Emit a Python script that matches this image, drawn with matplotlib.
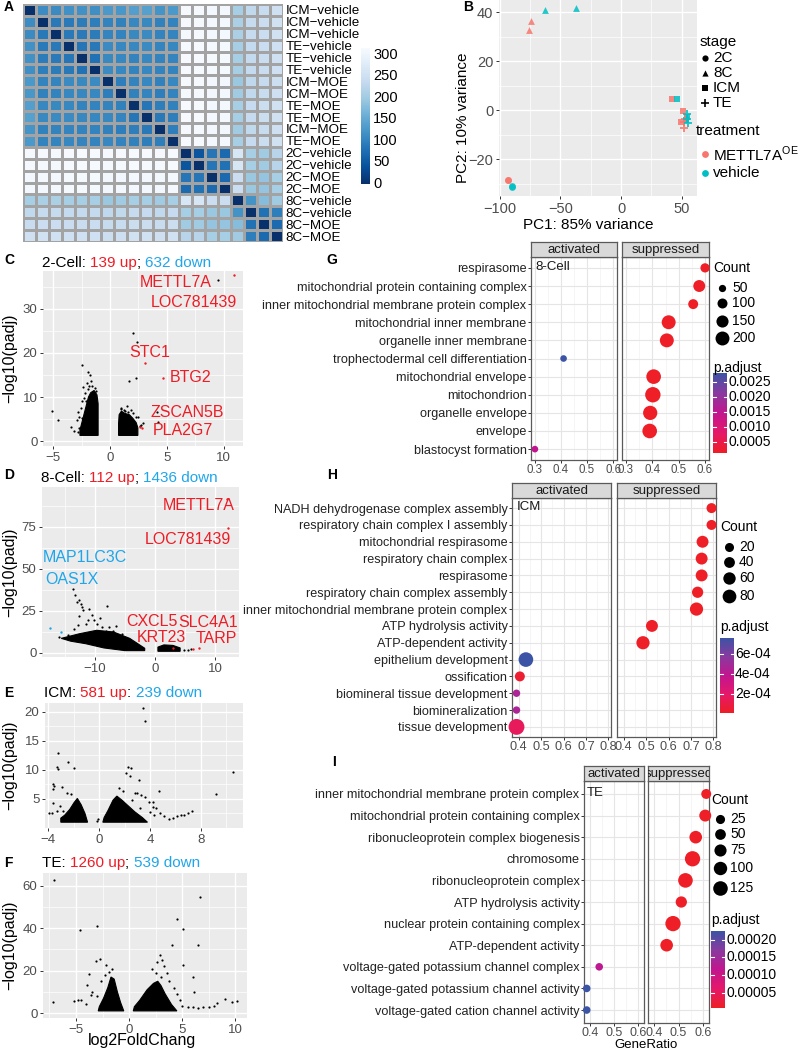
import numpy as np
import matplotlib
matplotlib.use("Agg")
import matplotlib.pyplot as plt
from matplotlib.colors import LinearSegmentedColormap
from matplotlib.transforms import blended_transform_factory

plt.rcParams['font.family'] = ['Liberation Sans', 'DejaVu Sans']
plt.rcParams['axes.unicode_minus'] = True

W, H = 799, 1050
fig = plt.figure(figsize=(W / 100, H / 100), dpi=100)


def box(l, t, r, b):
    return [l / W, 1 - b / H, (r - l) / W, (b - t) / H]


ov = fig.add_axes([0, 0, 1, 1], zorder=20)
ov.set_xlim(0, W)
ov.set_ylim(H, 0)
ov.axis('off')

# ------------------------------------------------------------------ data
hm_labels = (['ICM−vehicle'] * 3 + ['TE−vehicle'] * 3 +
             ['ICM−MOE', 'ICM−MOE', 'TE−MOE', 'TE−MOE', 'ICM−MOE', 'TE−MOE',
              '2C−vehicle', '2C−vehicle', '2C−MOE', '2C−MOE',
              '8C−vehicle', '8C−vehicle', '8C−MOE', '8C−MOE'])
hm_values = [
    [0, 112, 110, 118, 118, 115, 128, 125, 135, 138, 122, 128, 312, 312, 308, 308, 205, 232, 240, 250],
    [112, 0, 88, 90, 92, 95, 100, 98, 105, 108, 98, 100, 312, 312, 308, 308, 210, 238, 245, 252],
    [110, 88, 0, 88, 90, 92, 102, 100, 108, 110, 100, 102, 312, 312, 308, 308, 210, 238, 245, 252],
    [118, 90, 88, 0, 85, 88, 110, 105, 105, 110, 102, 105, 314, 314, 310, 310, 205, 235, 242, 250],
    [118, 92, 90, 85, 0, 80, 108, 105, 100, 105, 100, 102, 314, 314, 310, 310, 205, 235, 242, 250],
    [115, 95, 92, 88, 80, 0, 110, 105, 100, 105, 100, 100, 314, 314, 310, 310, 205, 235, 242, 250],
    [128, 100, 102, 110, 108, 110, 0, 95, 100, 105, 98, 105, 312, 312, 306, 306, 195, 230, 238, 246],
    [125, 98, 100, 105, 105, 105, 95, 0, 98, 102, 95, 100, 312, 312, 306, 306, 200, 232, 240, 248],
    [135, 105, 108, 105, 100, 100, 100, 98, 0, 85, 95, 98, 314, 314, 308, 308, 205, 236, 244, 252],
    [138, 108, 110, 110, 105, 105, 105, 102, 85, 0, 88, 95, 314, 314, 308, 308, 205, 236, 244, 252],
    [122, 98, 100, 102, 100, 100, 98, 95, 95, 88, 0, 95, 312, 312, 306, 306, 200, 232, 240, 248],
    [128, 100, 102, 105, 102, 100, 105, 100, 98, 95, 95, 0, 314, 314, 308, 308, 205, 236, 244, 252],
    [312, 312, 312, 314, 314, 314, 312, 312, 314, 314, 312, 314, 0, 45, 85, 70, 265, 205, 200, 222],
    [312, 312, 312, 314, 314, 314, 312, 312, 314, 314, 312, 314, 45, 0, 85, 80, 265, 205, 200, 222],
    [308, 308, 308, 310, 310, 310, 306, 306, 308, 308, 306, 308, 85, 85, 0, 70, 245, 195, 190, 205],
    [308, 308, 308, 310, 310, 310, 306, 306, 308, 308, 306, 308, 70, 80, 70, 0, 245, 195, 190, 205],
    [205, 210, 210, 205, 205, 205, 195, 200, 205, 205, 200, 205, 265, 265, 245, 245, 0, 120, 180, 200],
    [232, 238, 238, 235, 235, 235, 230, 232, 236, 236, 232, 236, 205, 205, 195, 195, 120, 0, 80, 95],
    [240, 245, 245, 242, 242, 242, 238, 240, 244, 244, 240, 244, 200, 200, 190, 190, 180, 80, 0, 70],
    [250, 252, 252, 250, 250, 250, 246, 248, 252, 252, 248, 252, 222, 222, 205, 205, 200, 95, 70, 0],
]
hm_ticks = [0, 50, 100, 150, 200, 250, 300]

pca_stage = ['2C', '2C', '2C', '2C', '8C', '8C', '8C', '8C'] + ['ICM'] * 6 + ['TE'] * 6
pca_treat = ['MOE', 'MOE', 'vehicle', 'vehicle', 'MOE', 'MOE', 'vehicle', 'vehicle',
             'MOE', 'MOE', 'MOE', 'vehicle', 'vehicle', 'vehicle',
             'MOE', 'MOE', 'MOE', 'vehicle', 'vehicle', 'vehicle']
pca_pc1 = [-93.2, -93.0, -89.8, -89.6, -74.5, -76.0, -62.8, -37.2,
           42.0, 51.0, 49.5, 46.0, 54.0, 53.5, 52.0, 51.5, 53.0, 54.0, 55.0, 54.5]
pca_pc2 = [-28.5, -28.7, -31.4, -31.2, 36.3, 32.6, 40.8, 41.6,
           4.5, -0.4, -4.8, 4.6, -2.8, -4.0, -7.2, -5.0, -3.5, -1.5, -5.5, -3.8]

# volcano C (2-Cell)
C_core_down = [(-2.65, 1.3), (-1.05, 1.3), (-1.05, 8.5), (-1.15, 10.5), (-1.4, 11.5), (-1.7, 11.0),
               (-1.9, 10.0), (-2.1, 8.0), (-2.3, 6.0), (-2.5, 4.0), (-2.65, 2.5)]
C_core_up = [(0.75, 1.3), (2.45, 1.3), (2.45, 3.0), (2.3, 4.2), (2.0, 5.2), (1.7, 6.0), (1.3, 6.3),
             (1.0, 6.8), (0.8, 6.0), (0.75, 4.0)]
C_black = [(-2.5, 17.3), (-1.9, 15.7), (-1.8, 15.0), (-2.05, 13.2), (-1.65, 13.6), (-2.4, 12.2),
           (-1.55, 12.6), (-2.2, 11.0), (-1.95, 11.8), (-2.5, 9.2), (-2.6, 7.6), (-2.8, 6.6), (-2.45, 5.2),
           (-2.9, 4.8), (-3.4, 3.2), (-4.6, 4.8), (-5.1, 6.8), (-3.2, 2.4), (-2.75, 3.0), (-2.8, 2.0),
           (-2.7, 5.5), (-2.3, 9.8), (-2.1, 9.0), (-1.85, 12.5), (-1.3, 12.0), (-1.2, 11.3),
           (1.0, 7.6), (1.25, 7.0), (1.5, 7.9), (1.8, 7.1), (2.05, 6.4), (1.35, 6.9), (2.0, 24.5),
           (2.4, 22.5), (1.7, 13.7), (2.3, 14.3), (2.9, 4.1), (2.75, 3.7), (4.1, 6.6), (4.2, 4.3),
           (9.5, 36.6), (2.5, 5.4), (1.6, 6.6), (2.3, 5.5), (0.95, 7.2), (2.6, 3.4)]
C_red = [(10.9, 37.8), (3.1, 17.7), (4.7, 14.3), (2.6, 3.2), (2.8, 3.0)]
C_blue = []
C_labels = [('METTL7A', 5.8, 36.1, 'up'), ('LOC781439', 7.4, 31.4, 'up'), ('STC1', 3.5, 20.2, 'up'),
            ('BTG2', 7.1, 14.5, 'up'), ('ZSCAN5B', 6.8, 6.4, 'up'), ('PLA2G7', 6.4, 2.5, 'up')]

# volcano D (8-Cell)
D_core_down = [(-15.6, 8.7), (-12.5, 11.5), (-9.7, 13.5), (-6.9, 12.5), (-4.2, 8.7), (-1.7, 2.8),
               (-1.7, 1.4), (-5.0, 1.4), (-8.5, 3.0), (-11.5, 5.5), (-14.0, 7.0)]
D_core_up = [(0.5, 1.0), (4.2, 1.0), (4.2, 3.0), (3.0, 4.5), (1.5, 4.8), (0.5, 3.5)]
D_black = [(-13.7, 37.9), (-13.3, 34.5), (-13.0, 30.5), (-12.6, 31.5), (-12.3, 29.0), (-8.05, 28.2),
           (-11.9, 25.6), (-12.6, 22.0), (-11.1, 19.6), (-10.2, 19.6), (-9.6, 17.2), (-11.5, 17.0),
           (-8.8, 15.5), (-7.6, 15.5), (-7.0, 13.0), (-8.2, 13.0), (-13.5, 14.0), (-12.8, 16.5),
           (-10.5, 22.5), (-9.2, 21.0), (-6.5, 16.0), (-5.5, 11.5), (-14.5, 10.5), (-16.0, 9.5),
           (-10.9, 26.2), (-12.1, 27.5), (4.9, 1.8), (6.0, 2.6), (5.5, 1.5)]
D_red = [(12.0, 91.7), (12.2, 74.4), (3.05, 2.8), (6.3, 2.4), (7.4, 2.8)]
D_blue = [(-17.4, 14.7), (-15.7, 12.7)]
D_labels = [('METTL7A', 7.3, 88.0, 'up'), ('LOC781439', 5.5, 67.3, 'up'), ('MAP1LC3C', -11.7, 57.1, 'down'),
            ('OAS1X', -13.8, 44.0, 'down'), ('CXCL5', -0.5, 18.5, 'up'), ('SLC4A1', 8.8, 17.9, 'up'),
            ('KRT23', 1.0, 9.5, 'up'), ('TARP', 10.3, 8.9, 'up')]

# volcano E (ICM)
E_core_down = [(-3.0, 1.0), (-0.9, 1.0), (-1.1, 2.5), (-1.4, 4.0), (-1.7, 5.1), (-1.95, 4.4),
               (-2.3, 3.2), (-2.7, 2.2), (-3.0, 1.7)]
E_core_up = [(0.3, 1.0), (3.8, 1.0), (3.4, 1.8), (2.8, 2.8), (2.3, 3.8), (1.8, 4.8), (1.4, 5.5),
             (1.1, 4.8), (0.7, 3.0), (0.4, 1.8)]
E_black = [(3.45, 20.7), (3.6, 18.4), (-3.2, 12.9), (-2.4, 11.4), (-3.3, 10.5), (-3.25, 10.2),
           (-2.0, 10.3), (-3.6, 7.6), (-3.5, 7.3), (-3.6, 6.8), (-2.5, 6.1), (-2.9, 7.0), (-3.6, 4.3),
           (-3.9, 2.5), (-3.7, 2.6), (-2.2, 5.8), (-3.1, 3.8), (-2.8, 3.0), (-3.3, 2.9), (-0.15, 1.2),
           (-0.1, 1.5), (10.5, 9.7), (9.2, 5.9), (2.3, 10.5), (2.5, 10.4), (2.1, 9.5), (2.4, 9.0),
           (3.1, 8.3), (4.7, 6.3), (2.8, 6.0), (3.0, 6.1), (3.3, 5.7), (1.6, 6.9), (1.9, 6.3), (3.9, 4.5),
           (4.2, 4.5), (3.6, 5.3), (4.5, 3.5), (4.0, 2.8), (4.3, 2.2), (4.8, 2.5), (5.1, 2.0), (5.5, 1.6),
           (5.8, 1.8), (6.1, 2.0), (6.4, 2.3), (6.7, 2.3), (7.0, 2.6), (7.3, 3.0), (4.2, 3.6), (2.6, 4.8),
           (3.2, 3.5)]
E_red = []
E_blue = []
E_labels = []

# volcano F (TE)
F_core_down = [(-2.9, 1.0), (-0.5, 1.0), (-0.8, 5.0), (-1.1, 10.0), (-1.4, 16.0), (-1.7, 17.0),
               (-2.0, 12.0), (-2.4, 7.0), (-2.8, 3.0)]
F_core_up = [(0.4, 1.0), (4.5, 1.0), (4.0, 4.0), (3.4, 9.0), (3.0, 13.0), (2.7, 15.0), (2.3, 14.0),
             (1.7, 11.0), (1.0, 6.0), (0.5, 3.0)]
F_black = [(-7.1, 62.9), (-7.2, 5.3), (-4.6, 39.0), (-3.0, 41.0), (-2.7, 25.7), (-3.1, 24.5),
           (-2.2, 22.6), (-3.8, 18.2), (-4.8, 6.1), (-4.5, 6.1), (-3.5, 10.0), (-3.0, 8.0), (-2.6, 15.0),
           (-2.3, 18.0), (-1.9, 19.5), (-1.6, 21.0), (-4.0, 13.0), (-3.6, 8.5), (-5.2, 5.5), (-4.1, 4.2),
           (6.7, 54.7), (4.5, 44.2), (5.1, 39.5), (4.0, 32.0), (6.5, 32.0), (5.1, 22.6), (6.0, 17.1),
           (6.1, 10.0), (10.2, 5.7), (9.7, 5.0), (9.0, 6.5), (8.3, 4.5), (8.0, 3.5), (7.5, 3.0), (7.0, 2.8),
           (6.5, 2.5), (6.0, 2.8), (5.5, 3.0), (5.0, 3.5), (2.9, 27.3), (3.1, 25.0), (2.6, 24.0),
           (3.3, 22.0), (2.2, 21.0), (3.6, 19.0), (2.5, 19.0), (3.0, 17.0), (3.8, 15.0), (4.2, 12.0),
           (4.5, 9.0), (4.8, 6.0)]
F_red = []
F_blue = []
F_labels = []

# GO dot plots
G_terms = ['respirasome', 'mitochondrial protein containing complex',
           'inner mitochondrial membrane protein complex', 'mitochondrial inner membrane',
           'organelle inner membrane', 'trophectodermal cell differentiation', 'mitochondrial envelope',
           'mitochondrion', 'organelle envelope', 'envelope', 'blastocyst formation']
G_group = ['suppressed', 'suppressed', 'suppressed', 'suppressed', 'suppressed', 'activated',
           'suppressed', 'suppressed', 'suppressed', 'suppressed', 'activated']
G_ratio = [0.600, 0.578, 0.555, 0.462, 0.455, 0.410, 0.405, 0.402, 0.392, 0.390, 0.300]
G_count = [85, 145, 99, 200, 200, 41, 221, 245, 209, 221, 41]
G_padj = [0.00015, 0.00015, 0.00015, 0.00015, 0.00015, 0.0028, 0.00015, 0.00015, 0.00015, 0.00015, 0.0015]

H_terms = ['NADH dehydrogenase complex assembly', 'respiratory chain complex I assembly',
           'mitochondrial respirasome', 'respiratory chain complex', 'respirasome',
           'respiratory chain complex assembly', 'inner mitochondrial membrane protein complex',
           'ATP hydrolysis activity', 'ATP-dependent activity', 'epithelium development', 'ossification',
           'biomineral tissue development', 'biomineralization', 'tissue development']
H_group = ['suppressed'] * 9 + ['activated'] * 5
H_ratio = [0.792, 0.792, 0.752, 0.748, 0.748, 0.730, 0.725, 0.526, 0.486, 0.432, 0.405, 0.390, 0.390, 0.390]
H_count = [30, 30, 54, 54, 54, 45, 72, 54, 72, 94, 30, 5, 5, 115]
H_padj = [1e-5, 1e-5, 1e-5, 1e-5, 1e-5, 1e-5, 1e-5, 1e-5, 1e-5, 7.6e-4, 4e-5, 4.6e-4, 4.6e-4, 1.6e-4]

I_terms = ['inner mitochondrial membrane protein complex', 'mitochondrial protein containing complex',
           'ribonucleoprotein complex biogenesis', 'chromosome', 'ribonucleoprotein complex',
           'ATP hydrolysis activity', 'nuclear protein containing complex', 'ATP-dependent activity',
           'voltage-gated potassium channel complex', 'voltage-gated potassium channel activity',
           'voltage-gated cation channel activity']
I_group = ['suppressed'] * 8 + ['activated'] * 3
I_ratio = [0.613, 0.609, 0.570, 0.557, 0.528, 0.511, 0.477, 0.451, 0.438, 0.386, 0.386]
I_count = [37, 71, 84, 142, 126, 59, 142, 84, 5, 5, 5]
I_padj = [7e-6, 7e-6, 7e-6, 7e-6, 7e-6, 7e-6, 7e-6, 7e-6, 1.2e-4, 2.25e-4, 2.25e-4]

# ------------------------------------------------------------------ style helpers
RED = '#EE1C25'
BLUE_T = '#1FA6EA'
GRAY_TXT = '#4D4D4D'
cmap_p = LinearSegmentedColormap.from_list(
    'padj', ['#EE1F26', '#E5196A', '#C2168F', '#8A3A9F', '#3C54A5'])


def letter(x, y, s):
    ov.text(x, y, s, fontsize=10, fontweight='bold', ha='left', va='center')


def multicolor(x, y, parts, size):
    r = fig.canvas.get_renderer()
    for s, c in parts:
        t = ov.text(x, y, s, color=c, fontsize=size, ha='left', va='center')
        bb = t.get_window_extent(renderer=r)
        x += bb.width


def gg_axes(ax, xlim, ylim, xt, yt, xm, ym, fs=9.5):
    ax.set_facecolor('#EBEBEB')
    ax.set_xlim(*xlim)
    ax.set_ylim(*ylim)
    ax.set_xticks(xt)
    ax.set_yticks(yt)
    ax.set_xticks(xm, minor=True)
    ax.set_yticks(ym, minor=True)
    ax.grid(which='major', color='white', linewidth=1.0)
    ax.grid(which='minor', color='white', linewidth=0.5)
    ax.set_axisbelow(True)
    for sp in ax.spines.values():
        sp.set_visible(False)
    ax.tick_params(which='major', length=2.5, width=0.7, color='#333333', labelcolor=GRAY_TXT,
                   labelsize=fs, pad=1.5)
    ax.tick_params(which='minor', length=0)


# ------------------------------------------------------------------ A heatmap
letter(4, 7, 'A')
axA = fig.add_axes(box(23, 4, 283, 242))
cmapA = LinearSegmentedColormap.from_list(
    'blues_r', ['#08306B', '#08519C', '#2171B5', '#4292C6', '#6BAED6', '#9ECAE1', '#C6DBEF',
                '#DEEBF7', '#F7FBFF'])
hm = np.array(hm_values, float)
axA.pcolormesh(hm, cmap=cmapA, vmin=0, vmax=316, edgecolors='#A3A3A3', linewidth=0.8)
axA.set_xlim(0, hm.shape[1])
axA.set_ylim(hm.shape[0], 0)
axA.set_xticks([])
axA.yaxis.tick_right()
axA.set_yticks(np.arange(len(hm_labels)) + 0.5)
axA.set_yticklabels(hm_labels, fontsize=9.6)
axA.tick_params(axis='y', length=0, pad=2)
for sp in axA.spines.values():
    sp.set_visible(False)

axAc = fig.add_axes(box(361, 48, 370, 184))
axAc.imshow(np.linspace(0, 316, 256).reshape(-1, 1), aspect='auto', cmap=cmapA, origin='lower',
            extent=[0, 1, 0, 316], vmin=0, vmax=316)
axAc.set_xlim(0, 1)
axAc.set_ylim(0, 316)
axAc.axis('off')
for v in hm_ticks:
    axAc.text(1.35, v, str(v), fontsize=10.5, ha='left', va='center')

# ------------------------------------------------------------------ B PCA
letter(463, 7, 'B')
axB = fig.add_axes(box(499, 0, 697, 196))
gg_axes(axB, (-100.5, 62.6), (-35.1, 44.9), [-100, -50, 0, 50], [-20, 0, 20, 40],
        [-75, -25, 25], [-30, -10, 10, 30], fs=10.5)
stage_marker = {'2C': 'o', '8C': '^', 'ICM': 's', 'TE': 'P'}
treat_color = {'MOE': '#F8766D', 'vehicle': '#00BFC4'}
for st, tr, x, y in zip(pca_stage, pca_treat, pca_pc1, pca_pc2):
    if st == 'TE':
        axB.scatter([x], [y], marker='+', s=34, linewidths=1.4, color=treat_color[tr], alpha=0.85, zorder=3)
    else:
        axB.scatter([x], [y], marker=stage_marker[st], s=24, linewidths=0, color=treat_color[tr],
                    alpha=0.85, zorder=3)
ov.text(463, 118, 'PC2: 10% variance', rotation=90, fontsize=11, ha='center', va='center')
ov.text(588, 225, 'PC1: 85% variance', fontsize=11, ha='center', va='center')
ov.text(700, 42, 'stage', fontsize=11, ha='left', va='center')
for lab, yy, mk in zip(['2C', '8C', 'ICM', 'TE'], [58, 73, 88, 103], ['o', '^', 's', '+']):
    if mk == '+':
        ov.scatter([705], [yy], marker='+', s=34, linewidths=1.2, color='black')
    else:
        ov.scatter([705], [yy], marker=mk, s=20, linewidths=0, color='black')
    ov.text(713, yy, lab, fontsize=11, ha='left', va='center')
ov.text(696, 131, 'treatment', fontsize=11, ha='left', va='center')
ov.scatter([705], [154], marker='o', s=24, linewidths=0, color='#F8766D')
ov.text(713, 154, r'METTL7A$^{\mathregular{OE}}$', fontsize=11, ha='left', va='center')
ov.scatter([705], [173], marker='o', s=24, linewidths=0, color='#00BFC4')
ov.text(713, 173, 'vehicle', fontsize=11, ha='left', va='center')


# ------------------------------------------------------------------ volcano plots
def volcano(bx, xlim, ylim, xt, yt, xm, ym, core_down, core_up, black, red, blue, labels,
            title_xy, title_parts, ylab_y):
    ax = fig.add_axes(box(*bx))
    gg_axes(ax, xlim, ylim, xt, yt, xm, ym)
    for poly in (core_down, core_up):
        p = np.array(poly)
        ax.fill(p[:, 0], p[:, 1], color='black', lw=0.8, zorder=2)
    if black:
        b = np.array(black)
        ax.scatter(b[:, 0], b[:, 1], s=2.5, color='black', linewidths=0, zorder=3)
    if red:
        r = np.array(red)
        ax.scatter(r[:, 0], r[:, 1], s=3, color=RED, linewidths=0, zorder=3)
    if blue:
        b = np.array(blue)
        ax.scatter(b[:, 0], b[:, 1], s=3, color=BLUE_T, linewidths=0, zorder=3)
    for txt, x, y, kind in labels:
        ax.text(x, y, txt, color=RED if kind == 'up' else BLUE_T, fontsize=11.5, ha='center',
                va='center', zorder=4, clip_on=False)
    multicolor(title_xy[0], title_xy[1], title_parts, 11)
    ov.text(10, ylab_y, '−log10(padj)', rotation=90, fontsize=11.5, ha='center', va='center')
    return ax


letter(4, 260, 'C')
volcano((43, 271, 243, 446), (-5.9, 11.7), (-1.1, 38.6), [-5, 0, 5, 10], [0, 10, 20, 30],
        [-2.5, 2.5, 7.5], [5, 15, 25, 35], C_core_down, C_core_up, C_black, C_red, C_blue, C_labels,
        (42, 263), [('2-Cell: ', 'black'), ('139 up', RED), ('; ', 'black'), ('632 down', BLUE_T)], 358)

letter(4, 475, 'D')
volcano((42, 487, 239, 657), (-18.8, 14.0), (-2.4, 98.8), [-10, 0, 10], [0, 25, 50, 75],
        [-15, -5, 5], [12.5, 37.5, 62.5, 87.5], D_core_down, D_core_up, D_black, D_red, D_blue, D_labels,
        (41, 478), [('8-Cell: ', 'black'), ('112 up', RED), ('; ', 'black'), ('1436 down', BLUE_T)], 572)

letter(4, 693, 'E')
volcano((45, 703, 243, 828), (-4.24, 11.3), (0.0, 21.55), [-4, 0, 4, 8], [5, 10, 15, 20],
        [-2, 2, 6, 10], [2.5, 7.5, 12.5, 17.5], E_core_down, E_core_up, E_black, E_red, E_blue, E_labels,
        (44, 693), [('ICM: ', 'black'), ('581 up', RED), (': ', 'black'), ('239 down', BLUE_T)], 765)

letter(4, 863, 'F')
volcano((43, 873, 247, 1018), (-8.1, 11.1), (-2.35, 66.1), [-5, 0, 5, 10], [0, 20, 40, 60],
        [-7.5, -2.5, 2.5, 7.5], [10, 30, 50], F_core_down, F_core_up, F_black, F_red, F_blue, F_labels,
        (42, 863), [('TE: ', 'black'), ('1260 up', RED), ('; ', 'black'), ('539 down', BLUE_T)], 945)
ov.text(142, 1041, 'log2FoldChang', fontsize=11.5, ha='center', va='center')


# ------------------------------------------------------------------ GO dot plots
def size_fn(leg_counts, leg_diam):
    slope, icpt = np.polyfit(leg_counts, np.square(leg_diam), 1)
    return lambda c: np.sqrt(np.maximum(icpt + slope * np.asarray(c, float), 30.0))


def dotplot(act_lr, sup_lr, strip_t, pan_t, pan_b, terms, group, ratio, count, padj, xt, xm,
            leg_counts, leg_diam, leg_x, count_title_y, leg_ys, padj_title_y, cbar_box, cb_ticks,
            cb_labels, tag, fs=9.1, xfs=9.2):
    n = len(terms)
    ypos = n - np.arange(n)
    ratio = np.array(ratio)
    R = ratio.max() - ratio.min()
    xlim = (ratio.min() - 0.05 * R, ratio.max() + 0.05 * R)
    pmin, pmax = min(padj), max(padj)
    dfun = size_fn(leg_counts, leg_diam)
    axes = []
    for k, (lr, grp) in enumerate(zip([act_lr, sup_lr], ['activated', 'suppressed'])):
        ax = fig.add_axes(box(lr[0], pan_t, lr[1], pan_b))
        ax.set_facecolor('white')
        ax.set_xlim(*xlim)
        ax.set_ylim(0.4, n + 0.6)
        ax.set_xticks(xt)
        ax.set_xticks(xm, minor=True)
        ax.set_yticks(ypos)
        ax.grid(which='major', color='#E5E5E5', linewidth=0.8)
        ax.grid(which='minor', axis='x', color='#F2F2F2', linewidth=0.5)
        ax.set_axisbelow(True)
        for sp in ax.spines.values():
            sp.set_color('#5A5A5A')
            sp.set_linewidth(0.9)
        ax.tick_params(which='major', length=2.2, width=0.7, color='#333333', labelcolor=GRAY_TXT,
                       labelsize=xfs, pad=1.0)
        ax.tick_params(which='minor', length=0)
        if k == 0:
            ax.set_yticklabels(terms, fontsize=fs, color='#222222')
        else:
            ax.tick_params(axis='y', length=0, labelleft=False)
        sel = [i for i in range(n) if group[i] == grp]
        if sel:
            d = dfun([count[i] for i in sel])
            ax.scatter(ratio[sel], ypos[sel], s=(d * 0.72) ** 2, c=[padj[i] for i in sel], cmap=cmap_p,
                       vmin=pmin, vmax=pmax, linewidths=0, zorder=3, clip_on=False)
        st = fig.add_axes(box(lr[0], strip_t, lr[1], pan_t))
        st.set_facecolor('#D9D9D9')
        st.set_xticks([])
        st.set_yticks([])
        for sp in st.spines.values():
            sp.set_color('#5A5A5A')
            sp.set_linewidth(0.9)
        st.text(0.5, 0.45, grp, transform=st.transAxes, ha='center', va='center', fontsize=9.5,
                color='#1A1A1A', clip_on=True)
        axes.append(ax)
    tr = blended_transform_factory(axes[0].transAxes, axes[0].transData)
    axes[0].text(0.05, n + 0.05, tag, transform=tr, fontsize=9.5, ha='left', va='center', color='#1A1A1A')
    # legends
    ov.text(leg_x, count_title_y, 'Count', fontsize=10, ha='left', va='center')
    for c, yy in zip(leg_counts, leg_ys):
        d = dfun([c])[0]
        ov.scatter([leg_x + 9], [yy], s=(d * 0.72) ** 2, color='black', linewidths=0)
        ov.text(leg_x + 19, yy, str(c), fontsize=10, ha='left', va='center')
    ov.text(leg_x, padj_title_y, 'p.adjust', fontsize=10, ha='left', va='center')
    cb = fig.add_axes(box(*cbar_box))
    cb.imshow(np.linspace(0, 1, 256).reshape(-1, 1), aspect='auto', cmap=cmap_p, origin='lower',
              extent=[0, 1, pmin, pmax])
    cb.set_xlim(0, 1)
    cb.set_ylim(pmin, pmax)
    cb.axis('off')
    for tk, lb in zip(cb_ticks, cb_labels):
        cb.plot([0, 0.22], [tk, tk], color='white', lw=0.8)
        cb.plot([0.78, 1], [tk, tk], color='white', lw=0.8)
        cb.text(1.08, tk, lb, fontsize=10, ha='left', va='center')
    return axes


ov.text(332, 260, 'G', fontsize=10, fontweight='bold', ha='center', va='center')
dotplot((531, 617), (622, 709), 242, 257, 460, G_terms, G_group, G_ratio, G_count, G_padj,
        [0.3, 0.4, 0.5, 0.6], [0.35, 0.45, 0.55],
        [50, 100, 150, 200], [7.3, 10, 12, 14], 713, 268, [288, 303, 321, 338], 368,
        (713, 373, 727, 453), [0.0005, 0.0010, 0.0015, 0.0020, 0.0025],
        ['0.0005', '0.0010', '0.0015', '0.0020', '0.0025'], '8-Cell', xfs=8.3)

ov.text(332, 475, 'H', fontsize=10, fontweight='bold', ha='center', va='center')
dotplot((512, 611), (617, 716), 483, 498, 737, H_terms, H_group, H_ratio, H_count, H_padj,
        [0.4, 0.5, 0.6, 0.7, 0.8], [0.45, 0.55, 0.65, 0.75],
        [20, 40, 60, 80], [9.3, 10.7, 12, 14], 720, 527, [547, 562, 578, 596], 627,
        (720, 638, 734, 713), [2e-4, 4e-4, 6e-4], ['2e-04', '4e-04', '6e-04'], 'ICM')

ov.text(334, 762, 'I', fontsize=10, fontweight='bold', ha='center', va='center')
dotplot((584, 644), (648, 709), 766, 781, 1023, I_terms, I_group, I_ratio, I_count, I_padj,
        [0.4, 0.5, 0.6], [0.45, 0.55],
        [25, 50, 75, 100, 125], [9.3, 10.7, 12, 13.3, 14.7], 711, 800, [819, 834, 850, 868, 888], 920,
        (711, 931, 725, 1008), [5e-5, 1e-4, 1.5e-4, 2e-4],
        ['0.00005', '0.00010', '0.00015', '0.00020'], 'TE', xfs=9.0)
ov.text(646, 1045, 'GeneRatio', fontsize=9.5, ha='center', va='center')

fig.savefig('out.png', dpi=100)
